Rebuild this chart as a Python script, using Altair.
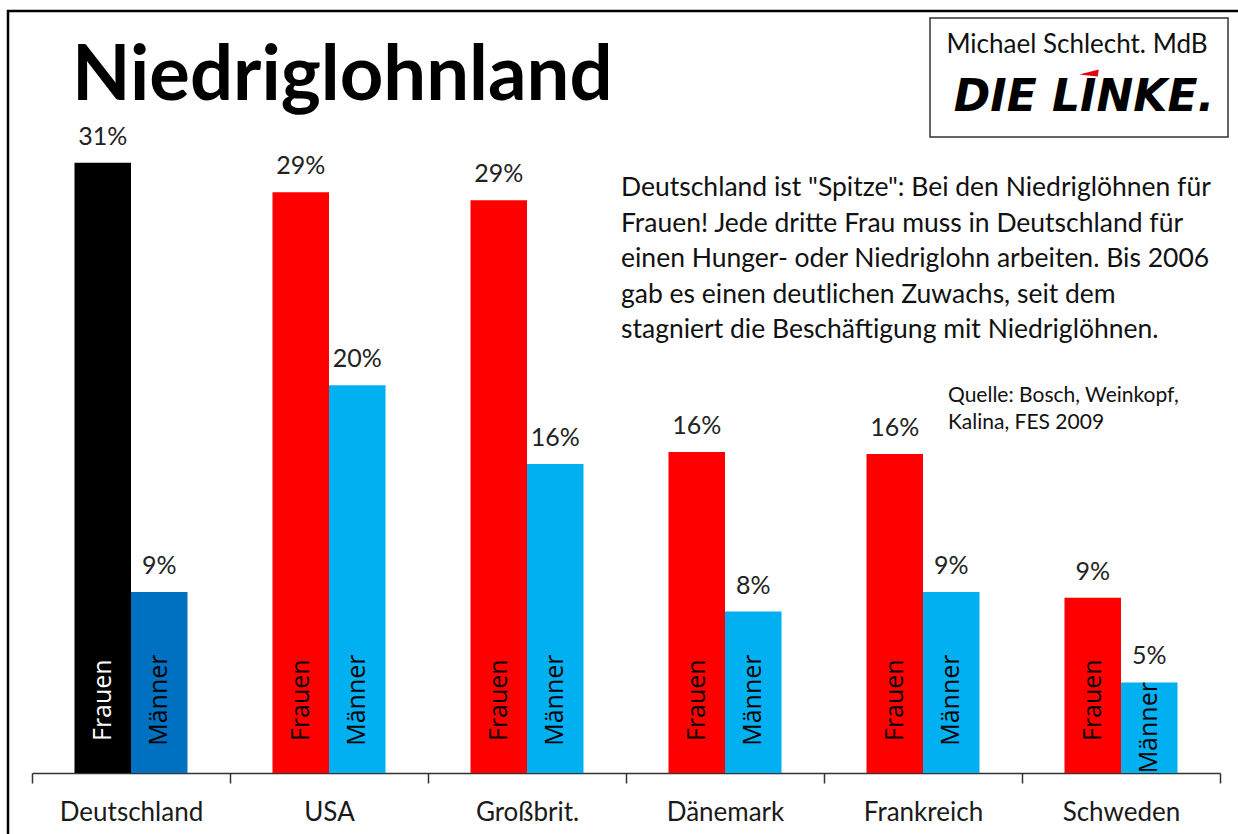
import altair as alt
import pandas as pd

# ---- data ----
countries = ["Deutschland", "USA", "Großbrit.", "Dänemark", "Frankreich", "Schweden"]
frauen = [31.0, 29.5, 29.1, 16.3, 16.2, 8.9]
maenner = [9.2, 19.7, 15.7, 8.2, 9.2, 4.6]
frauen_labels = ["31%", "29%", "29%", "16%", "16%", "9%"]
maenner_labels = ["9%", "20%", "16%", "8%", "9%", "5%"]
groups = ["Frauen", "Männer"]
highlight = "Deutschland"

title_text = "Niedriglohnland"
note_lines = [
    'Deutschland ist "Spitze": Bei den Niedriglöhnen für',
    "Frauen! Jede dritte Frau muss in Deutschland  für",
    "einen Hunger- oder Niedriglohn arbeiten. Bis 2006",
    "gab es einen deutlichen Zuwachs, seit dem",
    "stagniert die Beschäftigung mit Niedriglöhnen.",
]
source_lines = ["Quelle:  Bosch, Weinkopf,", "Kalina, FES 2009"]
author_text = "Michael Schlecht. MdB"
logo_text = "DIE LINKE."

# ---- table ----
rows = []
for i, c in enumerate(countries):
    for g, vals, labs in ((groups[0], frauen, frauen_labels), (groups[1], maenner, maenner_labels)):
        key = g + (" (hl)" if c == highlight else "")
        rows.append({"land": c, "gruppe": g, "wert": vals[i], "label": labs[i], "key": key,
                     "incolor": "white" if key == "Frauen (hl)" else "black"})
df = pd.DataFrame(rows)

FONT = "Lato"
W, H = 1188, 689

color_scale = alt.Scale(
    domain=["Frauen (hl)", "Männer (hl)", "Frauen", "Männer"],
    range=["#000000", "#0070C0", "#FF0000", "#00B0F0"],
)
x_enc = alt.X("land:N", sort=countries, title=None,
              scale=alt.Scale(paddingInner=0, paddingOuter=0),
              axis=alt.Axis(labelFont=FONT, labelFontSize=26, labelColor="#1a1a1a",
                            labelAngle=0, labelPadding=16, tickBand="extent",
                            tickSize=10, tickColor="#333333", domainColor="#333333",
                            domainWidth=1.5, tickWidth=1.5))
xo_enc = alt.XOffset("gruppe:N", sort=groups, scale=alt.Scale(paddingInner=0, paddingOuter=0.752))
y_scale = alt.Scale(domain=[0, 35])

base = alt.Chart(df)

bars = base.mark_bar().encode(
    x=x_enc, xOffset=xo_enc,
    y=alt.Y("wert:Q", scale=y_scale, axis=None),
    color=alt.Color("key:N", scale=color_scale, legend=None),
)

values = base.mark_text(font=FONT, fontSize=25, color="#222222", baseline="middle", dy=-26).encode(
    x=x_enc, xOffset=xo_enc,
    y=alt.Y("wert:Q", scale=y_scale),
    text="label:N",
)

inner = base.transform_calculate(
    lblpos="min(3.7, datum.wert / 2)"
).mark_text(font="Open Sans", fontSize=25, angle=270, baseline="middle", align="center").encode(
    x=x_enc, xOffset=xo_enc,
    y=alt.Y("lblpos:Q", scale=y_scale),
    text="gruppe:N",
    color=alt.Color("incolor:N", scale=None),
)

# decorations (frame, title, notes, logo)
one = pd.DataFrame({"a": [0]})
frame = alt.Chart(one).mark_rect(fill=None, stroke="black", strokeWidth=2.5).encode(
    x=alt.value(-24), x2=alt.value(1215), y=alt.value(-73), y2=alt.value(770))

logo_box = alt.Chart(one).mark_rect(fill="white", stroke="#333333", strokeWidth=1.5).encode(
    x=alt.value(898), x2=alt.value(1196), y=alt.value(-66), y2=alt.value(53))

title = alt.Chart(pd.DataFrame({"t": [title_text]})).mark_text(
    font=FONT, fontSize=76, fontWeight="bold", align="left", baseline="alphabetic", color="black").encode(
    x=alt.value(40), y=alt.value(16), text="t:N")

note = alt.Chart(one).mark_text(
    font=FONT, fontSize=26.5, align="left", baseline="middle", lineHeight=35.5, color="#111111",
    text=note_lines).encode(x=alt.value(589), y=alt.value(104))

source = alt.Chart(one).mark_text(
    font=FONT, fontSize=21, align="left", baseline="middle", lineHeight=27, color="#111111",
    text=source_lines).encode(x=alt.value(916), y=alt.value(312))

author = alt.Chart(pd.DataFrame({"t": [author_text]})).mark_text(
    font=FONT, fontSize=26, align="center", baseline="middle", color="#111111").encode(
    x=alt.value(1045), y=alt.value(-39), text="t:N")

logo = alt.Chart(pd.DataFrame({"t": [logo_text]})).mark_text(
    font="DejaVu Sans", fontSize=44, fontWeight="bold", fontStyle="italic",
    align="center", baseline="middle", color="black").encode(
    x=alt.value(1052), y=alt.value(14), text="t:N")

wedge = alt.Chart(one).mark_point(
    shape="M -1 0.15 L 1 -0.35 L 0.9 0.35 Z", filled=True, color="#E3000F", size=380,
    opacity=1, strokeWidth=0).encode(
    x=alt.value(1057), y=alt.value(-11))

chart = alt.layer(frame, logo_box, bars, values, inner, title, note, source, author, logo, wedge).properties(
    width=W, height=H,
    autosize=alt.AutoSizeParams(type="none"),
    padding={"left": 32, "top": 84, "right": 18, "bottom": 61},
    background="white",
).configure_view(stroke=None)

chart.save("out.html", embed_options={"renderer": "svg", "actions": False})
